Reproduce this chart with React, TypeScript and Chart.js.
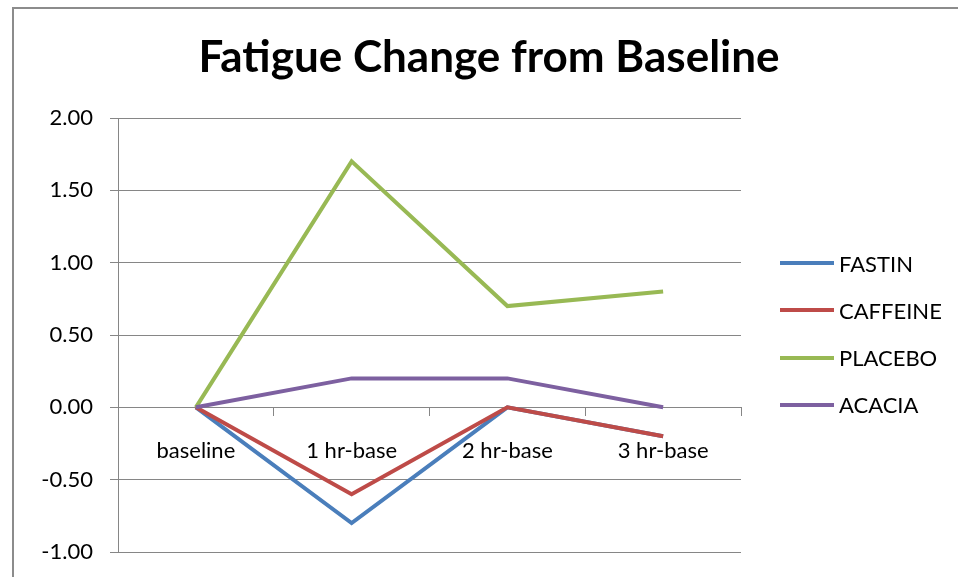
import React, { useEffect, useRef } from "react";
import { Chart, registerables } from "chart.js";

Chart.register(...registerables);

// Fatigue change scores relative to baseline, per treatment group
const categories = ["baseline", "1 hr-base", "2 hr-base", "3 hr-base"];
const fastin = [0, -0.8, 0, -0.2];
const caffeine = [0, -0.6, 0, -0.2];
const placebo = [0, 1.7, 0.7, 0.8];
const acacia = [0, 0.2, 0.2, 0];

const seriesNames = ["FASTIN", "CAFFEINE", "PLACEBO", "ACACIA"];
const seriesValues = [fastin, caffeine, placebo, acacia];
const seriesColors = ["#4A7EBB", "#BE4B48", "#98B954", "#7D60A0"];

const yMin = -1;
const yMax = 2;
const yStep = 0.5;

const chartTitle = "Fatigue Change from Baseline";

const FONT = "Lato, 'Open Sans', sans-serif";
const AXIS_GRAY = "#868686";

export default function App() {
  const canvasRef = useRef<HTMLCanvasElement | null>(null);

  useEffect(() => {
    const canvas = canvasRef.current;
    if (!canvas) return;

    const chart = new Chart(canvas, {
      type: "line",
      data: {
        labels: categories,
        datasets: seriesNames.map((name, i) => ({
          label: name,
          data: seriesValues[i],
          borderColor: seriesColors[i],
          backgroundColor: seriesColors[i],
          borderWidth: 4,
          pointRadius: 0,
          pointHoverRadius: 0,
          tension: 0,
          fill: false,
          // later series are painted over earlier ones
          order: seriesNames.length - i,
        })),
      },
      options: {
        responsive: false,
        animation: false,
        events: [],
        layout: {
          padding: { left: 0, right: 217, top: 118, bottom: 25 },
        },
        plugins: {
          legend: { display: false },
          title: { display: false },
          tooltip: { enabled: false },
        },
        scales: {
          x: {
            type: "category",
            position: { y: 0 },
            offset: true,
            afterFit: (scale: any) => {
              // the category axis sits on the zero line, so it needs no room of its own
              scale.height = 0;
              scale.paddingTop = 0;
              scale.paddingBottom = 0;
            },
            grid: {
              display: true,
              drawOnChartArea: false,
              drawTicks: true,
              offset: true,
              tickLength: 8,
              color: AXIS_GRAY,
              lineWidth: 1,
            },
            border: { display: true, color: AXIS_GRAY, width: 1 },
            ticks: {
              color: "#000",
              padding: 22,
              maxRotation: 0,
              autoSkip: false,
              font: { family: FONT, size: 22 },
            },
          },
          y: {
            type: "linear",
            min: yMin,
            max: yMax,
            afterFit: (scale: any) => {
              scale.width = 118;
              scale.paddingTop = 0;
              scale.paddingBottom = 0;
            },
            grid: {
              color: AXIS_GRAY,
              lineWidth: 1,
              tickLength: 8,
              drawTicks: true,
            },
            border: { display: true, color: AXIS_GRAY, width: 1 },
            ticks: {
              stepSize: yStep,
              color: "#000",
              padding: 17,
              font: { family: FONT, size: 22 },
              callback: (v: any) => Number(v).toFixed(2),
            },
          },
        },
      },
    });

    return () => chart.destroy();
  }, []);

  return (
    <div
      style={{
        position: "absolute",
        left: 0,
        top: 0,
        width: 958,
        height: 577,
        background: "#fff",
        overflow: "hidden",
        fontFamily: FONT,
      }}
    >
      {/* outer chart frame */}
      <div
        style={{
          position: "absolute",
          left: 12,
          top: 7,
          width: 980,
          height: 600,
          borderLeft: "2px solid #8c8c8c",
          borderTop: "2px solid #8c8c8c",
          boxSizing: "border-box",
        }}
      />
      <canvas
        ref={canvasRef}
        width={958}
        height={577}
        style={{ position: "absolute", left: 0, top: 0, width: 958, height: 577 }}
      />
      <div
        style={{
          position: "absolute",
          left: 189,
          width: 600,
          top: 26,
          textAlign: "center",
          fontSize: 44,
          fontWeight: 700,
          lineHeight: "58px",
          color: "#000",
          whiteSpace: "nowrap",
        }}
      >
        {chartTitle}
      </div>
      {seriesNames.map((name, i) => (
        <div
          key={name}
          style={{
            position: "absolute",
            left: 780,
            top: 263 + i * 47.3 - 14,
            height: 28,
            display: "flex",
            alignItems: "center",
            whiteSpace: "nowrap",
          }}
        >
          <span
            style={{
              display: "inline-block",
              width: 54,
              height: 4,
              background: seriesColors[i],
              marginRight: 5,
            }}
          />
          <span style={{ fontSize: 22, color: "#000" }}>{name}</span>
        </div>
      ))}
    </div>
  );
}
